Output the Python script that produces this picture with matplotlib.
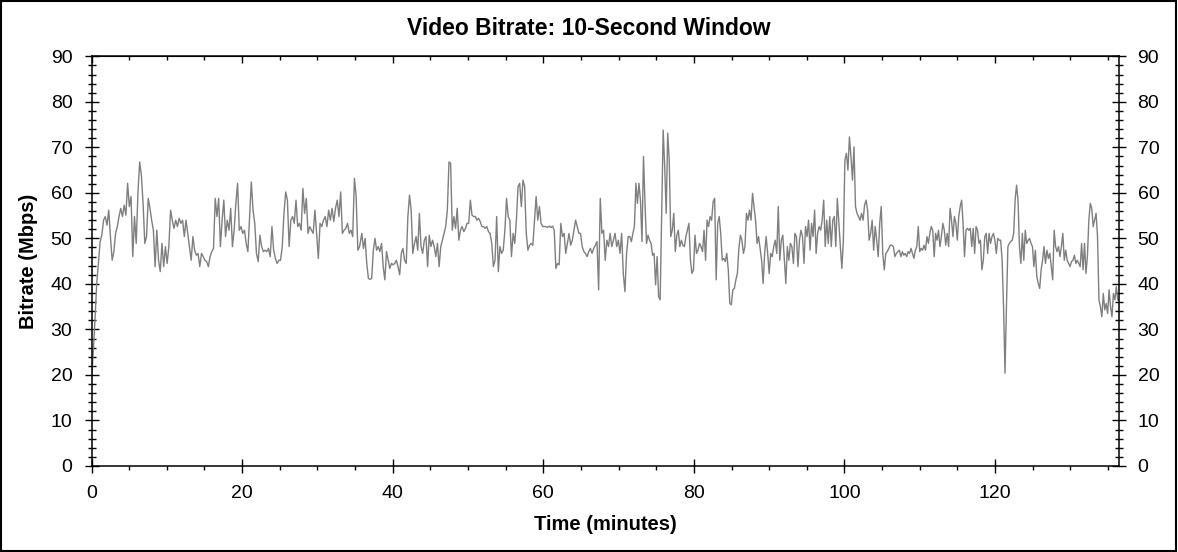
import numpy as np
import matplotlib
matplotlib.use("Agg")
import matplotlib.pyplot as plt
from matplotlib import ticker as mticker
from matplotlib.patches import Rectangle

plt.rcParams["font.family"] = ["Liberation Sans", "DejaVu Sans"]

# ----------------- data -----------------
# the trace is stored in four runs, each spread evenly between its start/end minute
SEG_MINUTES = [(0.0, 35.6), (35.9, 71.5), (71.7, 107.3), (107.5, 136.3)]

seg_a = [19, 25, 32, 40, 44.5, 49.3, 50.7, 54.0, 54.8, 52.9, 56.2, 50.4, 45.2, 47.1, 51.1, 52.6,
         54.8, 56.6, 54.8, 57.3, 55.1, 62.1, 57.0, 59.2, 46.0, 54.8, 48.9, 59.9, 66.8, 63.9, 57.7,
         48.9, 50.4, 58.8, 56.6, 54.0, 51.8, 43.8, 51.8, 45.2, 42.7, 48.9, 43.8, 48.2, 44.5, 48.2,
         56.2, 54.0, 52.2, 54.0, 52.6, 54.4, 53.3, 54.0, 50.4, 54.0, 51.1, 48.2, 45.2, 50.4, 47.4,
         46.3, 46.7, 43.8, 46.7, 46.0, 45.2, 44.9, 43.8, 46.0, 47.1, 47.8, 58.8, 54.8, 58.8, 48.2,
         54.0, 58.4, 50.4, 54.0, 51.8, 56.6, 48.2, 51.8, 57.7, 62.1, 51.8, 52.6, 51.1, 51.8, 48.9,
         47.1, 54.8, 62.4, 56.2, 53.3, 46.7, 44.9, 50.7, 48.2, 47.1, 47.4, 47.1, 47.8, 46.0, 52.6,
         47.4, 45.6, 44.5, 45.2, 45.2, 48.2, 55.5, 60.2, 58.4, 48.2, 54.0, 54.8, 53.3, 58.4, 52.6,
         53.3, 51.8, 61.0, 55.5, 58.8, 51.1, 52.6, 51.8, 51.1, 56.2, 51.1, 45.6, 53.3, 52.6, 54.0,
         54.8, 52.6, 56.2, 54.0, 56.6, 53.7, 56.6, 58.4, 54.8, 60.2, 51.1, 51.8, 52.2, 53.3, 51.1,
         51.8, 50.4, 63.2, 59.2, 47.4, 48.2]

seg_b = [51.1, 47.8, 50.0, 44.5, 41.2, 41.0, 41.2, 47.4, 50.0, 47.4, 48.2, 47.1, 48.9, 43.8, 40.9,
         47.1, 45.2, 43.4, 44.5, 44.2, 44.5, 45.2, 43.8, 42.0, 46.7, 47.8, 45.2, 44.5, 54.8, 59.5,
         56.2, 46.7, 48.9, 50.4, 47.4, 55.5, 48.2, 46.7, 49.6, 50.4, 43.8, 50.7, 48.2, 49.6, 48.2,
         46.0, 48.9, 43.8, 48.2, 49.6, 51.1, 52.6, 56.2, 66.8, 66.5, 51.8, 54.8, 52.2, 56.6, 49.6,
         51.8, 52.6, 51.5, 52.2, 53.3, 53.3, 58.4, 55.1, 54.8, 54.8, 54.0, 54.4, 53.7, 52.6, 52.6,
         52.2, 52.6, 51.5, 51.1, 48.9, 43.8, 45.2, 54.8, 42.7, 48.2, 46.7, 47.4, 51.8, 58.8, 54.8,
         54.0, 46.0, 51.1, 48.9, 54.0, 61.4, 62.1, 57.0, 62.8, 61.4, 51.1, 47.4, 48.5, 48.9, 48.5,
         54.0, 59.2, 54.0, 57.0, 53.3, 52.6, 52.6, 52.6, 52.4, 52.7, 52.4, 52.7, 51.8, 43.4, 44.5,
         44.2, 53.3, 50.4, 51.1, 46.7, 48.9, 51.1, 48.5, 49.6, 51.8, 54.0, 52.6, 51.1, 51.1, 48.2,
         47.1, 46.7, 46.0, 47.1, 47.8, 46.7, 47.8, 48.5, 49.3, 38.7, 58.8, 51.1, 51.8, 45.2, 49.6,
         48.2, 51.1, 48.2, 49.6, 51.1, 48.2, 49.6, 46.7, 51.1, 42.3, 38.3, 46.7, 50.4, 50.4]

seg_c = [49.3, 51.1, 52.6, 62.1, 57.7, 62.1, 58.4, 49.3, 68.0, 57.7, 48.9, 50.7, 49.6, 48.9, 46.3,
         46.7, 39.8, 46.0, 37.2, 36.5, 55.5, 73.8, 65.8, 55.5, 73.1, 67.2, 50.4, 51.8, 55.5, 47.1,
         50.7, 51.8, 48.2, 49.6, 48.5, 48.2, 50.4, 51.8, 53.3, 45.2, 42.3, 43.1, 50.7, 46.7, 47.4,
         48.9, 48.2, 47.1, 51.8, 45.2, 54.0, 52.6, 54.8, 54.0, 58.1, 58.8, 40.9, 53.3, 54.8, 51.1,
         45.2, 45.6, 44.9, 46.7, 43.1, 35.7, 35.4, 38.7, 39.0, 40.9, 42.3, 47.8, 50.7, 49.6, 46.7,
         48.2, 55.5, 54.0, 56.2, 54.0, 59.9, 57.0, 54.0, 48.9, 50.4, 47.8, 45.2, 40.1, 46.7, 50.4,
         46.7, 42.3, 46.7, 46.0, 48.2, 49.6, 46.7, 57.0, 45.2, 49.6, 50.7, 45.2, 40.1, 48.2, 45.2,
         48.9, 48.2, 44.5, 51.1, 50.4, 43.8, 49.6, 51.8, 50.4, 44.5, 52.6, 50.4, 54.0, 47.4, 53.3,
         50.4, 56.2, 46.7, 51.1, 52.6, 51.8, 54.0, 58.4, 48.2, 54.0, 48.9, 54.8, 48.2, 54.0, 54.8,
         48.2, 58.8, 53.3, 48.2, 43.4, 49.6, 67.2, 68.7, 65.0, 72.3, 68.0, 62.8, 70.1, 57.0, 55.5,
         54.8, 54.0, 55.5, 54.0, 57.3, 58.4, 56.2, 49.6, 51.1, 54.0, 47.4, 52.6, 49.6, 46.0, 53.3,
         57.0, 46.7, 43.1, 46.7, 47.1, 47.8, 48.5, 48.5, 48.2, 46.0, 46.7, 47.1, 47.4]

seg_d = [46.0, 47.1, 46.3, 46.7, 46.0, 47.1, 46.7, 47.8, 46.7, 45.6, 47.4, 48.2, 52.6, 47.1, 47.8,
         47.4, 48.5, 47.4, 50.4, 48.9, 51.1, 52.6, 51.8, 46.0, 51.1, 49.6, 51.8, 48.2, 50.4, 53.3,
         51.8, 48.5, 51.1, 48.2, 56.6, 54.0, 50.4, 54.8, 53.3, 49.6, 54.8, 57.0, 58.4, 53.3, 46.0,
         51.8, 52.2, 51.8, 52.2, 48.2, 52.2, 46.7, 52.6, 51.8, 48.9, 49.6, 43.1, 45.2, 50.4, 51.1,
         46.7, 51.1, 48.9, 50.4, 51.1, 49.6, 46.7, 50.0, 49.6, 49.6, 45.2, 35.0, 20.4, 35.0, 48.2,
         48.9, 49.3, 49.6, 51.1, 58.4, 61.7, 58.4, 48.2, 44.5, 51.1, 45.2, 51.8, 48.9, 49.6, 50.0,
         48.9, 48.2, 43.8, 47.4, 41.6, 40.1, 39.0, 43.1, 45.2, 48.2, 44.5, 47.4, 45.6, 46.7, 43.8,
         40.9, 51.8, 48.2, 47.1, 48.2, 46.0, 48.2, 51.1, 45.2, 47.4, 45.2, 44.5, 43.8, 44.9, 45.2,
         46.3, 44.5, 45.2, 44.5, 43.8, 48.9, 43.1, 48.9, 42.3, 46.0, 54.0, 57.7, 56.6, 52.6, 54.0,
         55.5, 50.4, 36.5, 35.0, 32.8, 37.9, 34.3, 35.7, 33.5, 38.7, 35.0, 32.8, 37.9, 36.5, 39.4,
         36.5]

X_MAX = 136.4
TITLE = "Video Bitrate: 10-Second Window"
XLABEL = "Time (minutes)"
YLABEL = "Bitrate (Mbps)"

# ----------------- build series -----------------
minutes, mbps = [], []
for (t0, t1), vals in zip(SEG_MINUTES, [seg_a, seg_b, seg_c, seg_d]):
    minutes.append(np.linspace(t0, t1, len(vals)))
    mbps.append(np.asarray(vals, dtype=float))
minutes = np.concatenate(minutes)
mbps = np.concatenate(mbps)

# ----------------- plot -----------------
fig = plt.figure(figsize=(11.78, 5.52), dpi=100)
ax = fig.add_axes([0.0777, 0.1558, 0.9495 - 0.0777, 0.898 - 0.1558])

ax.plot(minutes, mbps, color="#7f7f7f", lw=1.0)

ax.set_xlim(0, X_MAX)
ax.set_ylim(0, 90)
ax.xaxis.set_major_locator(mticker.MultipleLocator(20))
ax.xaxis.set_minor_locator(mticker.MultipleLocator(5))
ax.yaxis.set_major_locator(mticker.MultipleLocator(10))
ax.yaxis.set_minor_locator(mticker.MultipleLocator(2))

for s in ax.spines.values():
    s.set_linewidth(1.1)

ax.tick_params(axis="y", which="major", direction="inout", length=9.5, width=1.0,
               left=True, right=True, labelleft=True, labelright=True, labelsize=14, pad=9)
ax.tick_params(axis="y", which="minor", direction="inout", length=5.5, width=1.0,
               left=True, right=True)
ax.tick_params(axis="x", which="major", direction="inout", length=10, width=1.0,
               top=False, labelsize=14, pad=9)
ax.tick_params(axis="x", which="minor", direction="out", length=3, width=1.0, top=False)

top = ax.secondary_xaxis("top")
top.xaxis.set_major_locator(mticker.MultipleLocator(20))
top.xaxis.set_minor_locator(mticker.MultipleLocator(5))
top.tick_params(which="major", direction="in", length=5, width=1.0, labeltop=False)
top.tick_params(which="minor", direction="in", length=2.7, width=1.0)

# title sits over the middle of the whole picture, not the axes
fig.text(0.5, 0.949, TITLE, ha="center", va="center", fontsize=16.5, fontweight="bold")
ax.set_xlabel(XLABEL, fontsize=14.5, fontweight="bold", labelpad=9)
ax.set_ylabel(YLABEL, fontsize=14.5, fontweight="bold", labelpad=9)

# thin frame round the whole picture
fig.add_artist(Rectangle((0.001, 0.002), 0.997, 0.996, transform=fig.transFigure,
                         fill=False, edgecolor="black", lw=1.5))

fig.savefig("out.png", dpi=100, facecolor="white")
